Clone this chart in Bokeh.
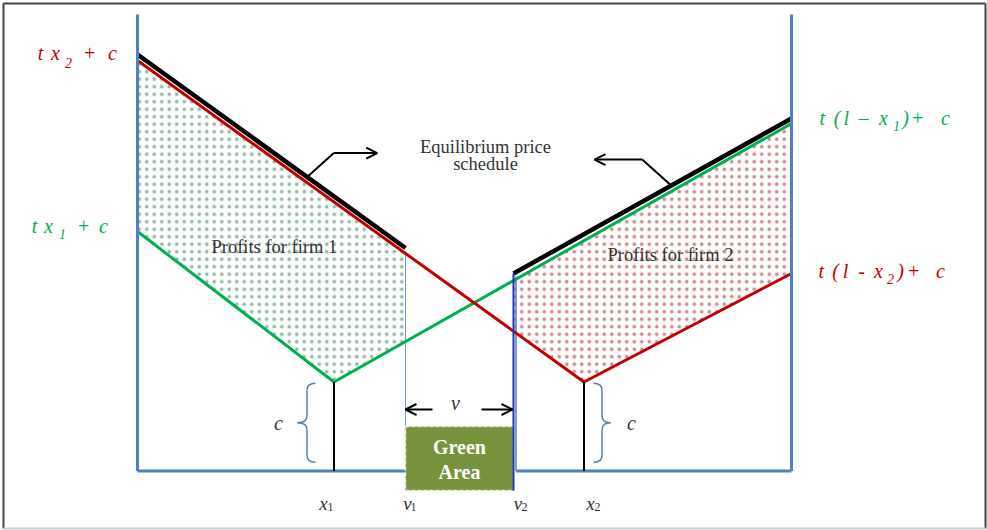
import numpy as np
from bokeh.plotting import figure
from bokeh.models import Range1d, Arrow, OpenHead, ColumnDataSource
from bokeh.core.properties import value
from bokeh.embed import file_html
from bokeh.resources import INLINE

# ---------------- diagram values (location 0..l, price above baseline) ----------------
l_len = 654.0
x1, v1, v2, x2 = 196.5, 268.0, 376.0, 446.5
c_cost = 89.0
axis_top = 456.5

firm1_x = [0.0, x1, l_len]          # firm 1 delivered price (green)
firm1_y = [239.5, c_cost, 347.5]
firm2_x = [0.0, x2, l_len]          # firm 2 delivered price (red)
firm2_y = [410.5, c_cost, 197.5]
eq_left_x = [0.0, v1]               # equilibrium price schedule (black)
eq_left_y = [416.5, 223.0]
eq_right_x = [v2, l_len]
eq_right_y = [197.5, 352.5]

bottom_letters = ["x", "v", "v", "x"]
bottom_subs = ["1", "1", "2", "2"]
bottom_pos = [x1, v1, v2, x2]

green_area_top, green_area_bottom = 44.5, -19.5

# ---------------- styles ----------------
BLUE = "#4F81BD"
RED = "#C00000"
GREEN = "#00B050"
DARKBLUE = "#2233BB"
TXT = "#333333"
SERIF = "Liberation Serif"


def f1(x):
    return float(np.interp(x, firm1_x, firm1_y))


def f2(x):
    return float(np.interp(x, firm2_x, firm2_y))


p = figure(width=987, height=530, x_range=Range1d(-137, 850), y_range=Range1d(-59.5, 470.5),
           output_backend="svg", toolbar_location=None, min_border=0,
           x_axis_type=None, y_axis_type=None)
p.xgrid.grid_line_color = None
p.ygrid.grid_line_color = None
p.outline_line_color = None
p.background_fill_color = "white"
p.border_fill_color = "white"

# picture frame
p.segment(x0=[-134, -134, 848], y0=[-57.5, 467.5, 467.5], x1=[-134, 848, 848], y1=[467.5, 467.5, -57.5],
          line_color="#444444", line_width=2)
p.segment(x0=[-134], y0=[-57.5], x1=[848], y1=[-57.5], line_color="#CCCCCC", line_width=2)

# profit areas (dotted)
prof1_x = [0.0, v1, v1, x1, 0.0]
prof1_y = [f2(0.0), f2(v1), f1(v1), f1(x1), f1(0.0)]
prof2_x = [v2, l_len, l_len, x2, v2]
prof2_y = [f1(v2), f1(l_len), f2(l_len), f2(x2), f2(v2)]
p.patch(prof1_x, prof1_y, fill_color="white", fill_alpha=0.0, line_color=None,
        hatch_pattern="dot", hatch_color="#4A8F6A", hatch_scale=7.5, hatch_weight=0.8, hatch_alpha=0.6)
p.patch(prof2_x, prof2_y, fill_color="white", fill_alpha=0.0, line_color=None,
        hatch_pattern="dot", hatch_color="#B83A3A", hatch_scale=7.5, hatch_weight=0.8, hatch_alpha=0.6)

# thin v1 line
p.segment(x0=[v1], y0=[f2(v1)], x1=[v1], y1=[green_area_top], line_color="#6E9BD8", line_width=1)
# lighter v2 line down to baseline
p.segment(x0=[v2 + 2.5], y0=[f1(v2) + 4], x1=[v2 + 2.5], y1=[0], line_color=BLUE, line_width=1.5)

# price lines
p.line(firm1_x, firm1_y, line_color=GREEN, line_width=3)
p.line(firm2_x, firm2_y, line_color=RED, line_width=3)
# equilibrium schedule
p.line(eq_left_x, eq_left_y, line_color="black", line_width=4.5)
p.line(eq_right_x, eq_right_y, line_color="black", line_width=4.5)

# axes frame
p.segment(x0=[0, l_len], y0=[0, 0], x1=[0, l_len], y1=[axis_top, axis_top], line_color=BLUE, line_width=3)
p.segment(x0=[0, v2 + 2.5], y0=[0, 0], x1=[v1, l_len], y1=[0, 0], line_color=BLUE, line_width=3)

# vertical c lines at firms
p.segment(x0=[x1, x2], y0=[0, 0], x1=[x1, x2], y1=[c_cost, c_cost], line_color="black", line_width=2)

# green area
p.quad(left=[v1], right=[v2], bottom=[green_area_bottom], top=[green_area_top],
       fill_color="#76923C", line_color="#E8EEDC", line_dash="4 2", line_width=1.5)
p.segment(x0=[v2], y0=[green_area_bottom], x1=[v2], y1=[f1(v2) + 7], line_color=DARKBLUE, line_width=2)


# braces
def brace(x_end, x_spine, x_tip, y_bot, y_top, r=7.0):
    ym = (y_bot + y_top) / 2
    p.quadratic(x0=[x_end, x_spine, x_tip, x_spine],
                y0=[y_top, ym + r, ym, y_bot + r],
                x1=[x_spine, x_tip, x_spine, x_end],
                y1=[y_top - r, ym, ym - r, y_bot],
                cx=[x_spine, x_spine, x_spine, x_spine],
                cy=[y_top, ym, ym, y_bot],
                line_color=BLUE, line_width=1.5)
    p.segment(x0=[x_spine, x_spine], y0=[y_top - r, ym - r],
              x1=[x_spine, x_spine], y1=[ym + r, y_bot + r],
              line_color=BLUE, line_width=1.5)


brace(x1 - 18.5, x1 - 27, x1 - 36.5, 8.8, 87.8)
brace(x2 + 9.5, x2 + 18, x2 + 26.5, 8.8, 87.8)

# callout arrows
sx = 169.7
sy = float(np.interp(sx, eq_left_x, eq_left_y))
p.line([sx, sx + 26.6], [sy, sy + 24], line_color="black", line_width=2)
p.add_layout(Arrow(end=OpenHead(size=11, line_width=2, line_color="black"),
                   x_start=sx + 26.6, y_start=sy + 24, x_end=sx + 70, y_end=sy + 24,
                   line_color="black", line_width=2))
rx = 533.7
ry = float(np.interp(rx, eq_right_x, eq_right_y))
p.line([rx, rx - 29], [ry, ry + 26], line_color="black", line_width=2)
p.add_layout(Arrow(end=OpenHead(size=11, line_width=2, line_color="black"),
                   x_start=rx - 29, y_start=ry + 26, x_end=rx - 76.7, y_end=ry + 26,
                   line_color="black", line_width=2))

# v arrows
p.add_layout(Arrow(end=OpenHead(size=11, line_width=2, line_color="black"),
                   x_start=v1 + 27, y_start=61.5, x_end=v1, y_end=61.5, line_color="black", line_width=2))
p.add_layout(Arrow(end=OpenHead(size=11, line_width=2, line_color="black"),
                   x_start=v2 - 32, y_start=61.5, x_end=v2 - 1, y_end=61.5, line_color="black", line_width=2))


# ---------------- texts ----------------
def txt(xs, ys, texts, size, color, style="normal", align="center"):
    src = ColumnDataSource(dict(x=xs, y=ys, t=texts))
    p.text(x="x", y="y", text="t", source=src, text_font=value(SERIF),
           text_font_size=value(size), text_color=color, text_font_style=value(style),
           text_align=value(align), text_baseline=value("middle"))


txt([348, 348], [324, 307.5], ["Equilibrium price", "schedule"], "18.5px", TXT)
txt([136.9], [224.5], ["Profits for firm 1"], "18.5px", TXT)
txt([533], [216.5], ["Profits for firm 2"], "18.5px", TXT)

# left labels
txt([-97, -82, -48, -25], [418.5] * 4, ["t", "x", "+", "c"], "20px", RED, "italic")
txt([-69], [408.5], ["2"], "14px", RED, "italic")
txt([-103, -89, -54, -34], [245.5] * 4, ["t", "x", "+", "c"], "20px", GREEN, "italic")
txt([-75], [237.5], ["1"], "14px", GREEN, "italic")

# right labels
txt([684.7, 699.7, 708.7, 726, 746, 768, 780, 808], [353.5] * 8,
    ["t", "(", "l", "\u2013", "x", ")", "+", "c"], "20px", GREEN, "italic")
txt([759], [345.5], ["1"], "14px", GREEN, "italic")
txt([683.7, 698, 708, 724, 741, 763, 776, 803], [200.5] * 8,
    ["t", "(", "l", "-", "x", ")", "+", "c"], "20px", RED, "italic")
txt([753], [192.5], ["2"], "14px", RED, "italic")

# brace labels and v
txt([141, 494], [48.5, 48.5], ["c", "c"], "20px", TXT, "italic")
txt([318], [68], ["v"], "20px", TXT, "italic")

# bottom labels
bx = [bottom_pos[0] - 10.5, bottom_pos[1] + 2, bottom_pos[2] + 4.5, bottom_pos[3] + 6.5]
bsx = [bottom_pos[0] - 3.5, bottom_pos[1] + 8, bottom_pos[2] + 11, bottom_pos[3] + 13.5]
txt(bx, [-32.5] * 4, bottom_letters, "19px", TXT, "italic")
txt(bsx, [-36] * 4, bottom_subs, "12px", TXT)

# green area text
src_g = ColumnDataSource(dict(x=[(v1 + v2) / 2] * 2, y=[24.5, -0.5], t=["Green", "Area"]))
p.text(x="x", y="y", text="t", source=src_g, text_font=value(SERIF), text_font_size=value("20px"),
       text_color="white", text_font_style=value("bold"), text_align=value("center"),
       text_baseline=value("middle"))

open("out.html", "w").write(file_html(p, INLINE))
